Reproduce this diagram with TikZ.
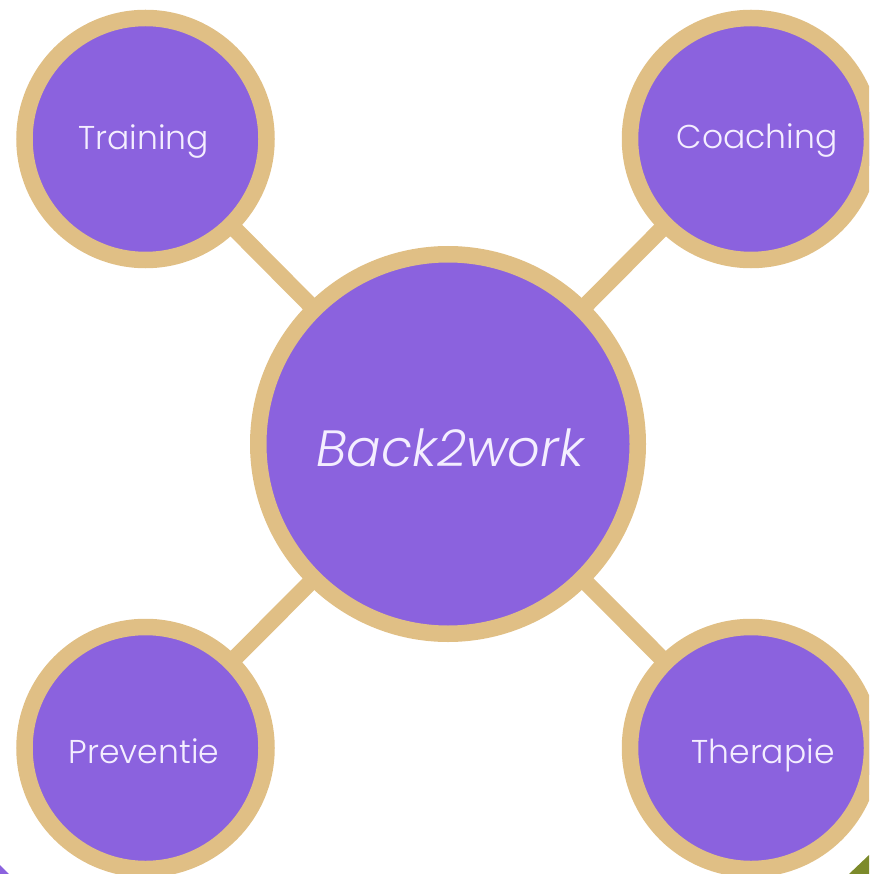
\documentclass[tikz,border=0pt]{standalone}
\usepackage{fontspec}
\setmainfont{Poppins Light}[ItalicFont={Poppins Light Italic}]
\usetikzlibrary{backgrounds}
\definecolor{ringtan}{HTML}{E0BF85}
\definecolor{hubpurple}{HTML}{8B62DE}
\definecolor{labelwhite}{HTML}{F4EEFF}
\definecolor{cornergreen}{HTML}{7C8A2A}
\begin{document}
\begin{tikzpicture}[x=1pt,y=-1pt,
  ring/.style={circle,draw=ringtan,fill=hubpurple,line width=16.5pt,inner sep=0pt},
  satellite/.style={ring,minimum size=242pt},
  hub/.style={ring,minimum size=379.5pt},
  spoke/.style={draw=ringtan,line width=16.5pt},
  caption/.style={text=labelwhite,anchor=base,inner sep=0pt,font=\fontsize{33}{38}\selectfont},
  hubcaption/.style={caption,font=\fontsize{51}{56}\selectfont\itshape}]
  \useasboundingbox (0,0) rectangle (869,874);
  \clip (0,0) rectangle (869,874);

  % corner shapes
  \fill[hubpurple] (0,865) -- (9,874) -- (0,874) -- cycle;
  \fill[cornergreen] (849,874) -- (869,855) -- (869,874) -- cycle;

  % circles
  \node[hub] (hub) at (448,444) {};
  \node[satellite] (training) at (145.5,139) {};
  \node[satellite] (coaching) at (751,139) {};
  \node[satellite] (preventie) at (145.5,748) {};
  \node[satellite] (therapie) at (751,748) {};

  % spokes behind the circles
  \begin{pgfonlayer}{background}
    \draw[spoke] (hub.center) -- (training.center);
    \draw[spoke] (hub.center) -- (coaching.center);
    \draw[spoke] (hub.center) -- (preventie.center);
    \draw[spoke] (hub.center) -- (therapie.center);
  \end{pgfonlayer}

  % labels
  \node[hubcaption] (hubtext) at (450,466) {Back2work};
  \node[caption] (trainingtext) at (143.5,150) {Training};
  \node[caption] (coachingtext) at (757,149) {Coaching};
  \node[caption] (preventietext) at (144,763) {Preventie};
  \node[caption] (therapietext) at (763,763) {Therapie};
\end{tikzpicture}
\end{document}
